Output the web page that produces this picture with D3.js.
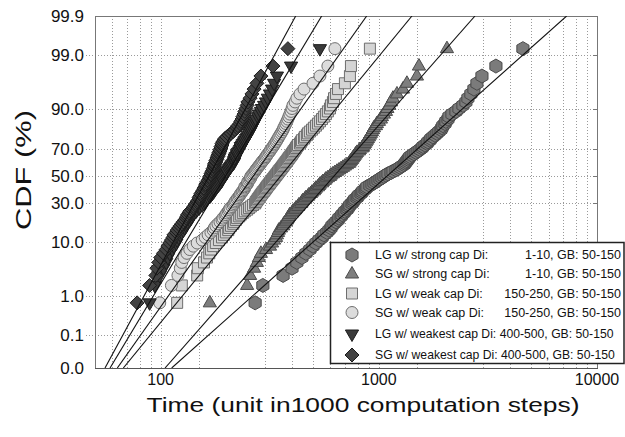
<!DOCTYPE html>
<html><head><meta charset="utf-8">
<script src="https://cdn.jsdelivr.net/npm/d3@7"></script>
<style>body{margin:0;background:#fff}svg{display:block;font-family:"Liberation Sans",Arial,sans-serif}</style>
</head><body><svg id="c" width="625" height="437"></svg>
<script>
// ---------- data (sorted samples, time in 1000 computation steps) ----------
const lgStrong = [271,294,364,400,421,444,463,483,499,515,
532,549,560,578,591,603,610,623,636,650,
656,671,678,692,699,714,722,730,737,753,
761,769,777,794,802,811,828,837,846,864,
873,882,910,930,950,970,991,1012,1033,1055,
1078,1101,1137,1161,1198,1224,1250,1276,1303,1317,
1331,1345,1360,1374,1388,1418,1448,1479,1511,1543,
1576,1593,1627,1662,1679,1715,1733,1770,1808,1846,
1885,1926,1946,1967,2009,2030,2074,2096,2163,2256,
2329,2429,2507,2560,2642,2728,2816,2969,3441,4575];
const sgStrong = [168,249,257,268,276,282,288,304,317,324,
331,338,341,345,348,356,364,367,375,379,
383,387,391,400,404,413,417,426,430,440,
444,449,458,463,473,478,488,494,504,509,
515,526,532,537,549,554,566,572,584,597,
603,616,629,643,657,671,685,699,714,730,
737,745,753,761,769,777,785,794,811,819,
837,846,855,864,873,882,891,901,910,920,
930,940,950,970,980,1001,1022,1033,1055,1078,
1094,1117,1137,1161,1211,1290,1345,1495,1527,2052];
const lgWeak = [119,125,147,148,158,163,167,170,174,179,
185,191,195,199,204,206,210,215,217,221,
224,229,233,238,243,249,254,259,265,271,
273,276,279,282,285,288,291,294,298,301,
304,307,310,314,317,320,324,327,331,334,
338,341,345,348,352,356,360,364,367,371,
375,379,383,387,391,396,400,404,408,413,
417,421,426,435,440,444,454,458,468,473,
483,494,504,515,526,537,549,560,572,584,
597,603,616,623,636,650,699,737,745,910];
const sgWeak = [99,112,120,123,125,128,132,136,141,147,
155,160,165,170,174,176,179,183,187,191,
193,197,199,201,204,206,208,212,215,217,
219,221,224,226,229,231,233,236,238,241,
243,243,246,249,251,251,254,257,259,259,
262,265,268,271,273,276,279,282,285,288,
291,294,298,301,304,307,310,314,317,320,
324,327,331,334,338,341,345,348,352,356,
360,364,367,371,375,379,383,387,391,396,
400,404,413,421,435,454,499,537,584,629];
const lgWeakest = [89,94,99,103,106,108,110,113,115,118,
119,121,123,125,127,129,131,132,133,136,
138,139,141,142,145,147,150,151,155,158,
160,161,163,165,168,170,172,174,176,177,
179,181,183,185,187,189,191,191,193,195,
197,199,201,201,204,206,208,210,212,215,
217,217,219,219,221,224,224,226,229,231,
233,233,236,238,241,243,246,249,251,254,
257,259,262,265,268,271,273,279,282,288,
291,298,304,310,317,324,331,341,396,537];
const sgWeakest = [78,89,95,96,98,100,103,106,108,110,
112,114,115,118,119,121,123,125,127,129,
131,132,133,135,136,139,141,142,144,145,
147,148,150,150,151,153,153,155,156,158,
158,160,161,161,163,165,165,167,168,168,
170,170,172,172,174,174,176,176,177,177,
179,179,181,181,183,183,185,185,187,187,
189,189,191,191,193,195,197,201,206,210,
215,219,224,226,231,233,236,238,241,243,
246,249,251,257,262,268,276,288,327,383];

const seriesNames = ["LG w/ strong cap Di:","SG w/ strong cap Di:","LG w/ weak cap Di:","SG w/ weak cap Di:","LG w/ weakest cap Di:","SG w/ weakest cap Di:"];
const seriesRanges = ["1-10, GB: 50-150","1-10, GB: 50-150","150-250, GB: 50-150","150-250, GB: 50-150","400-500, GB: 50-150","400-500, GB: 50-150"];
// lognormal fit lines: median (time) and sigma (log10)
const fitMedian = [1094.7, 625.1, 355.9, 266.4, 198.5, 166.8];
const fitSigma  = [0.26587, 0.20865, 0.19432, 0.16787, 0.14249, 0.12836];

const yTickValues = [0.01, 0.1, 1, 10, 30, 50, 70, 90, 99, 99.9];
const xTickLabels = [100, 1000, 10000];
const xGridValues = [60,70,80,90,100,150,300,400,500,600,700,800,900,1000,1500,3000,4000,5000,6000,7000,8000,9000];

// ---------- helpers ----------
function probit(p){
 const a=[-3.969683028665376e+01,2.209460984245205e+02,-2.759285104469687e+02,1.383577518672690e+02,-3.066479806614716e+01,2.506628277459239e+00];
 const b=[-5.447609879822406e+01,1.615858368580409e+02,-1.556989798598866e+02,6.680131188771972e+01,-1.328068155288572e+01];
 const c=[-7.784894002430293e-03,-3.223964580411365e-01,-2.400758277161838e+00,-2.549732539343734e+00,4.374664141464968e+00,2.938163982698783e+00];
 const d=[7.784695709041462e-03,3.224671290700398e-01,2.445134137142996e+00,3.754408661907416e+00];
 const pl=0.02425, ph=1-pl; let q,r;
 if(p<pl){q=Math.sqrt(-2*Math.log(p));return (((((c[0]*q+c[1])*q+c[2])*q+c[3])*q+c[4])*q+c[5])/((((d[0]*q+d[1])*q+d[2])*q+d[3])*q+1);}
 if(p<=ph){q=p-0.5;r=q*q;return (((((a[0]*r+a[1])*r+a[2])*r+a[3])*r+a[4])*r+a[5])*q/(((((b[0]*r+b[1])*r+b[2])*r+b[3])*r+b[4])*r+1);}
 q=Math.sqrt(-2*Math.log(1-p));return -(((((c[0]*q+c[1])*q+c[2])*q+c[3])*q+c[4])*q+c[5])/((((d[0]*q+d[1])*q+d[2])*q+d[3])*q+1);
}

const L=95, R=597, T=16, B=368;
const x = d3.scaleLog().domain([50,10000]).range([L,R]);
const zDom = [probit(0.0001), probit(0.999)];
const zScale = d3.scaleLinear().domain(zDom).range([B,T]);
const y = pct => zScale(probit(pct/100));

const svg = d3.select("#c");

// ---------- grid ----------
const grid = svg.append("g").attr("stroke","#9a9a9a").attr("stroke-width",1).attr("stroke-dasharray","1,2");
grid.selectAll("line.v").data(xGridValues).join("line")
  .attr("x1",d=>Math.round(x(d))+0.5).attr("x2",d=>Math.round(x(d))+0.5).attr("y1",T).attr("y2",B);
grid.selectAll("line.h").data(yTickValues.slice(1,-1)).join("line")
  .attr("x1",L-9).attr("x2",R).attr("y1",d=>Math.round(y(d))+0.5).attr("y2",d=>Math.round(y(d))+0.5);
// small ticks at right border
svg.append("g").attr("stroke","#777").selectAll("line").data(yTickValues.slice(1,-1)).join("line")
  .attr("x1",R-4).attr("x2",R).attr("y1",d=>Math.round(y(d))+0.5).attr("y2",d=>Math.round(y(d))+0.5);

// frame
svg.append("rect").attr("x",L+0.5).attr("y",T+0.5).attr("width",R-L).attr("height",B-T)
  .attr("fill","none").attr("stroke","#777").attr("stroke-width",1);
svg.append("line").attr("x1",L).attr("x2",R+1).attr("y1",B+0.5).attr("y2",B+0.5).attr("stroke","#555");

// ---------- axes labels ----------
const fmt = d3.format(".1f");
svg.append("g").selectAll("text").data(yTickValues).join("text")
  .attr("x",84).attr("y",d=>y(d)).attr("dy","0.35em").attr("text-anchor","end")
  .attr("font-size",17).attr("fill","#111").text(d=>fmt(d));
svg.append("g").selectAll("text").data(xTickLabels).join("text")
  .attr("x",d=>x(d)).attr("y",385).attr("text-anchor","middle")
  .attr("font-size",16).attr("fill","#111").text(d=>d);
svg.append("text").attr("x",363).attr("y",412).attr("text-anchor","middle")
  .attr("font-size",21).attr("textLength",433).attr("lengthAdjust","spacingAndGlyphs")
  .attr("fill","#111").text("Time (unit in1000 computation steps)");
svg.append("text").attr("transform","translate(31,170) rotate(-90)").attr("text-anchor","middle")
  .attr("font-size",22).attr("textLength",120).attr("lengthAdjust","spacingAndGlyphs")
  .attr("fill","#111").text("CDF (%)");

// ---------- markers ----------
function shapePath(k){
  const pts = [];
  if(k===0){ for(let i=0;i<6;i++){const a=Math.PI/180*(-90+60*i);pts.push([7*Math.cos(a),7*Math.sin(a)]);} }
  else if(k===1){ pts.push([0,-7.5],[6.6,4],[-6.6,4]); }
  else if(k===2){ pts.push([-5.5,-5.5],[5.5,-5.5],[5.5,5.5],[-5.5,5.5]); }
  else if(k===4){ pts.push([0,7.5],[6.6,-4],[-6.6,-4]); }
  else if(k===5){ pts.push([0,-7],[7,0],[0,7],[-7,0]); }
  if(k===3) return d3.symbol(d3.symbolCircle, Math.PI*36)();
  return "M"+pts.map(p=>p.join(",")).join("L")+"Z";
}
const fills = ["#7b7b7b","#7e7e7e","#d5d5d5","#dcdcdc","#3a3a3a","#434343"];
const strokes = ["#4a4a4a","#4a4a4a","#6e6e6e","#6e6e6e","#1c1c1c","#1c1c1c"];
const allSeries = [lgStrong, sgStrong, lgWeak, sgWeak, lgWeakest, sgWeakest];

const pts = svg.append("g");
allSeries.forEach((vals,k)=>{
  const n = vals.length;
  pts.append("g").selectAll("path").data(vals).join("path")
    .attr("d",shapePath(k))
    .attr("transform",(d,i)=>`translate(${x(d)},${y(100*(i+1-0.3)/(n+0.4))})`)
    .attr("fill",fills[k]).attr("stroke",strokes[k]).attr("stroke-width",1);
});

// ---------- fit lines ----------
svg.append("defs").append("clipPath").attr("id","plotclip").append("rect")
  .attr("x",L).attr("y",T).attr("width",R-L).attr("height",B-T);
const lines = svg.append("g").attr("clip-path","url(#plotclip)");
fitMedian.forEach((m,k)=>{
  const tb = Math.pow(10, Math.log10(m)+fitSigma[k]*zDom[0]);
  const tt = Math.pow(10, Math.log10(m)+fitSigma[k]*zDom[1]);
  lines.append("line").attr("x1",x(tb)).attr("y1",zScale(zDom[0])).attr("x2",x(tt)).attr("y2",zScale(zDom[1]))
    .attr("stroke","#111").attr("stroke-width",1.1);
});

// ---------- legend ----------
const lg = svg.append("g");
lg.append("rect").attr("x",330.5).attr("y",242.5).attr("width",293.5).attr("height",121)
  .attr("fill","#fff").attr("stroke","#222").attr("stroke-width",1.5);
const rowY = [255, 274, 293.5, 312.5, 334, 355];
seriesNames.forEach((nm,k)=>{
  lg.append("path").attr("d",shapePath(k)).attr("transform",`translate(352,${rowY[k]})`)
    .attr("fill",fills[k]).attr("stroke",strokes[k]);
  if(k>=4){
    lg.append("text").attr("x",375).attr("y",rowY[k]).attr("dy","0.35em").attr("font-size",12.2)
      .attr("fill","#111").text(nm+" "+seriesRanges[k]);
  } else {
    lg.append("text").attr("x",375).attr("y",rowY[k]).attr("dy","0.35em").attr("font-size",12.5)
      .attr("fill","#111").text(nm);
    lg.append("text").attr("x",621).attr("y",rowY[k]).attr("dy","0.35em").attr("font-size",12.5)
      .attr("text-anchor","end").attr("fill","#111").text(seriesRanges[k]);
  }
});
</script></body></html>
